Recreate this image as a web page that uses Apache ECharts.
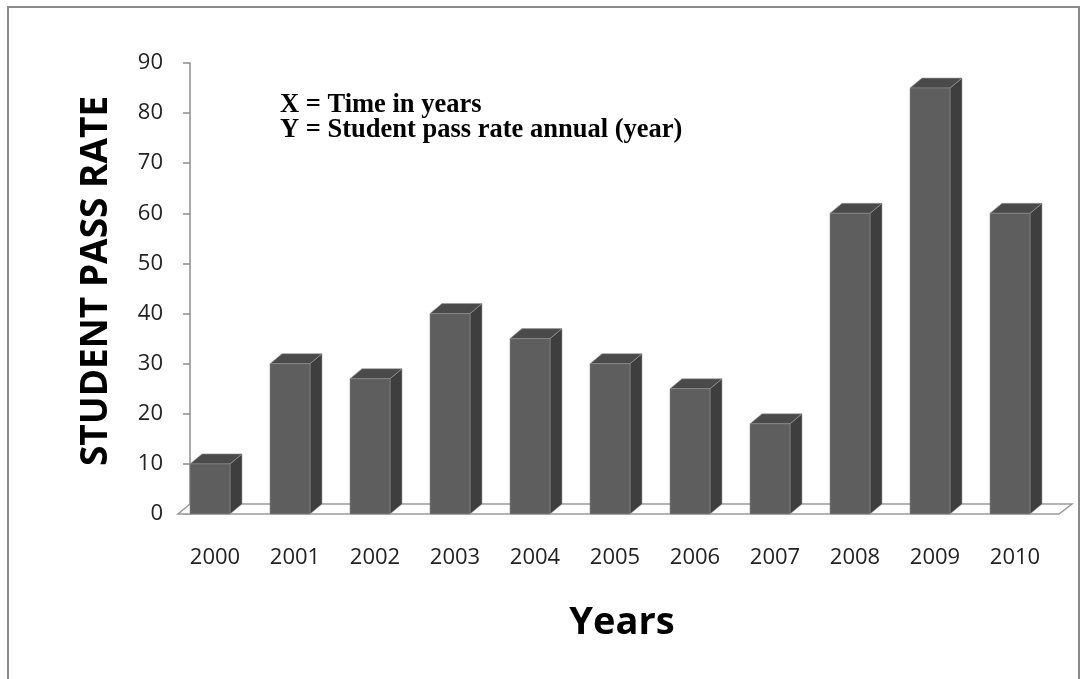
<!DOCTYPE html>
<html>
<head>
<meta charset="utf-8">
<script src="https://cdn.jsdelivr.net/npm/echarts@6/dist/echarts.min.js"></script>
<style>html,body{margin:0;padding:0;background:#fff}#c{width:1087px;height:679px}</style>
</head>
<body>
<div id="c"></div>
<script>
const years = ['2000','2001','2002','2003','2004','2005','2006','2007','2008','2009','2010'];
const passRate = [10, 30, 27, 40, 35, 30, 25, 18, 60, 85, 60];
const yTicks = [0, 10, 20, 30, 40, 50, 60, 70, 80, 90];
const yTitle = 'STUDENT PASS RATE';
const xTitle = 'Years';
const noteLines = ['X = Time in years', 'Y = Student pass rate annual (year)'];

const chart = echarts.init(document.getElementById('c'));
const DX = 12, DY = -10;

function renderBar(params, api) {
  const idx = api.value(0);
  const top = api.coord([idx, api.value(1)]);
  const base = api.coord([idx, 0]);
  const band = api.size([1, 0])[0];
  const w = band * 40 / 80;
  const x0 = top[0] - band * 25 / 80;
  const x1 = x0 + w;
  const yt = top[1], yb = base[1];
  return {
    type: 'group',
    children: [
      { type: 'polygon', shape: { points: [[x1, yt], [x1 + DX, yt + DY], [x1 + DX, yb + DY], [x1, yb]] },
        style: { fill: '#3e3e3e', stroke: '#9a9a9a', lineWidth: 0.6 } },
      { type: 'polygon', shape: { points: [[x0, yt], [x1, yt], [x1 + DX, yt + DY], [x0 + DX, yt + DY]] },
        style: { fill: '#4a4a4a', stroke: '#9a9a9a', lineWidth: 0.6 } },
      { type: 'rect', shape: { x: x0, y: yt, width: w, height: yb - yt },
        style: { fill: '#5e5e5e', stroke: '#8a8a8a', lineWidth: 0.6 } }
    ]
  };
}

function renderFloor(params, api) {
  const cs = params.coordSys;
  const yb = cs.y + cs.height;
  const xl = cs.x, xr = cs.x + cs.width;
  return {
    type: 'polygon',
    shape: { points: [[xl + 3, yb], [xr + 4, yb], [xr + 4 + 13, yb - 10], [xl + 15, yb - 10]] },
    style: { fill: '#ffffff', stroke: '#9a9a9a', lineWidth: 1.5 }
  };
}

const option = {
  animation: false,
  backgroundColor: '#ffffff',
  grid: { left: 175, right: 1087 - 1055, top: 63, bottom: 679 - 514, containLabel: false },
  xAxis: {
    type: 'category',
    data: years,
    axisLine: { show: false },
    axisTick: { show: false },
    axisLabel: { margin: 33, fontFamily: 'Open Sans', fontSize: 22, color: '#222' },
    splitLine: { show: false }
  },
  yAxis: {
    type: 'value',
    min: yTicks[0],
    max: yTicks[yTicks.length - 1],
    interval: 10,
    offset: -15,
    axisLine: { show: true, lineStyle: { color: '#8c8c8c', width: 1.5 } },
    axisTick: { show: true, length: 7, lineStyle: { color: '#8c8c8c', width: 1.5 } },
    axisLabel: { margin: 27, fontFamily: 'Open Sans', fontSize: 22, color: '#222' },
    splitLine: { show: false }
  },
  series: [
    { type: 'custom', renderItem: renderFloor, data: [[0, 0]], z: 1, silent: true, clip: false },
    { type: 'custom', renderItem: renderBar, data: passRate.map((v, i) => [i, v]), encode: { x: 0, y: 1 }, z: 2, clip: false }
  ],
  graphic: [
    { type: 'rect', shape: { x: 8, y: 7, width: 1071, height: 700 }, style: { fill: 'none', stroke: '#8a8a8a', lineWidth: 2 }, z: 100 },
    { type: 'text', x: 96, y: 281, rotation: Math.PI / 2,
      style: { text: yTitle, fontFamily: 'Open Sans', fontWeight: 'bold', fontSize: 37, fill: '#000', align: 'center', verticalAlign: 'middle' } },
    { type: 'text', x: 622, y: 623,
      style: { text: xTitle, fontFamily: 'Open Sans', fontWeight: 'bold', fontSize: 38, fill: '#000', align: 'center', verticalAlign: 'middle' } },
    { type: 'text', x: 280, y: 105,
      style: { text: noteLines[0], fontFamily: 'Liberation Serif', fontWeight: 'bold', fontSize: 26.5, fill: '#000', align: 'left', verticalAlign: 'middle' } },
    { type: 'text', x: 280, y: 130,
      style: { text: noteLines[1], fontFamily: 'Liberation Serif', fontWeight: 'bold', fontSize: 26.5, fill: '#000', align: 'left', verticalAlign: 'middle' } }
  ]
};
chart.setOption(option);
</script>
</body>
</html>
